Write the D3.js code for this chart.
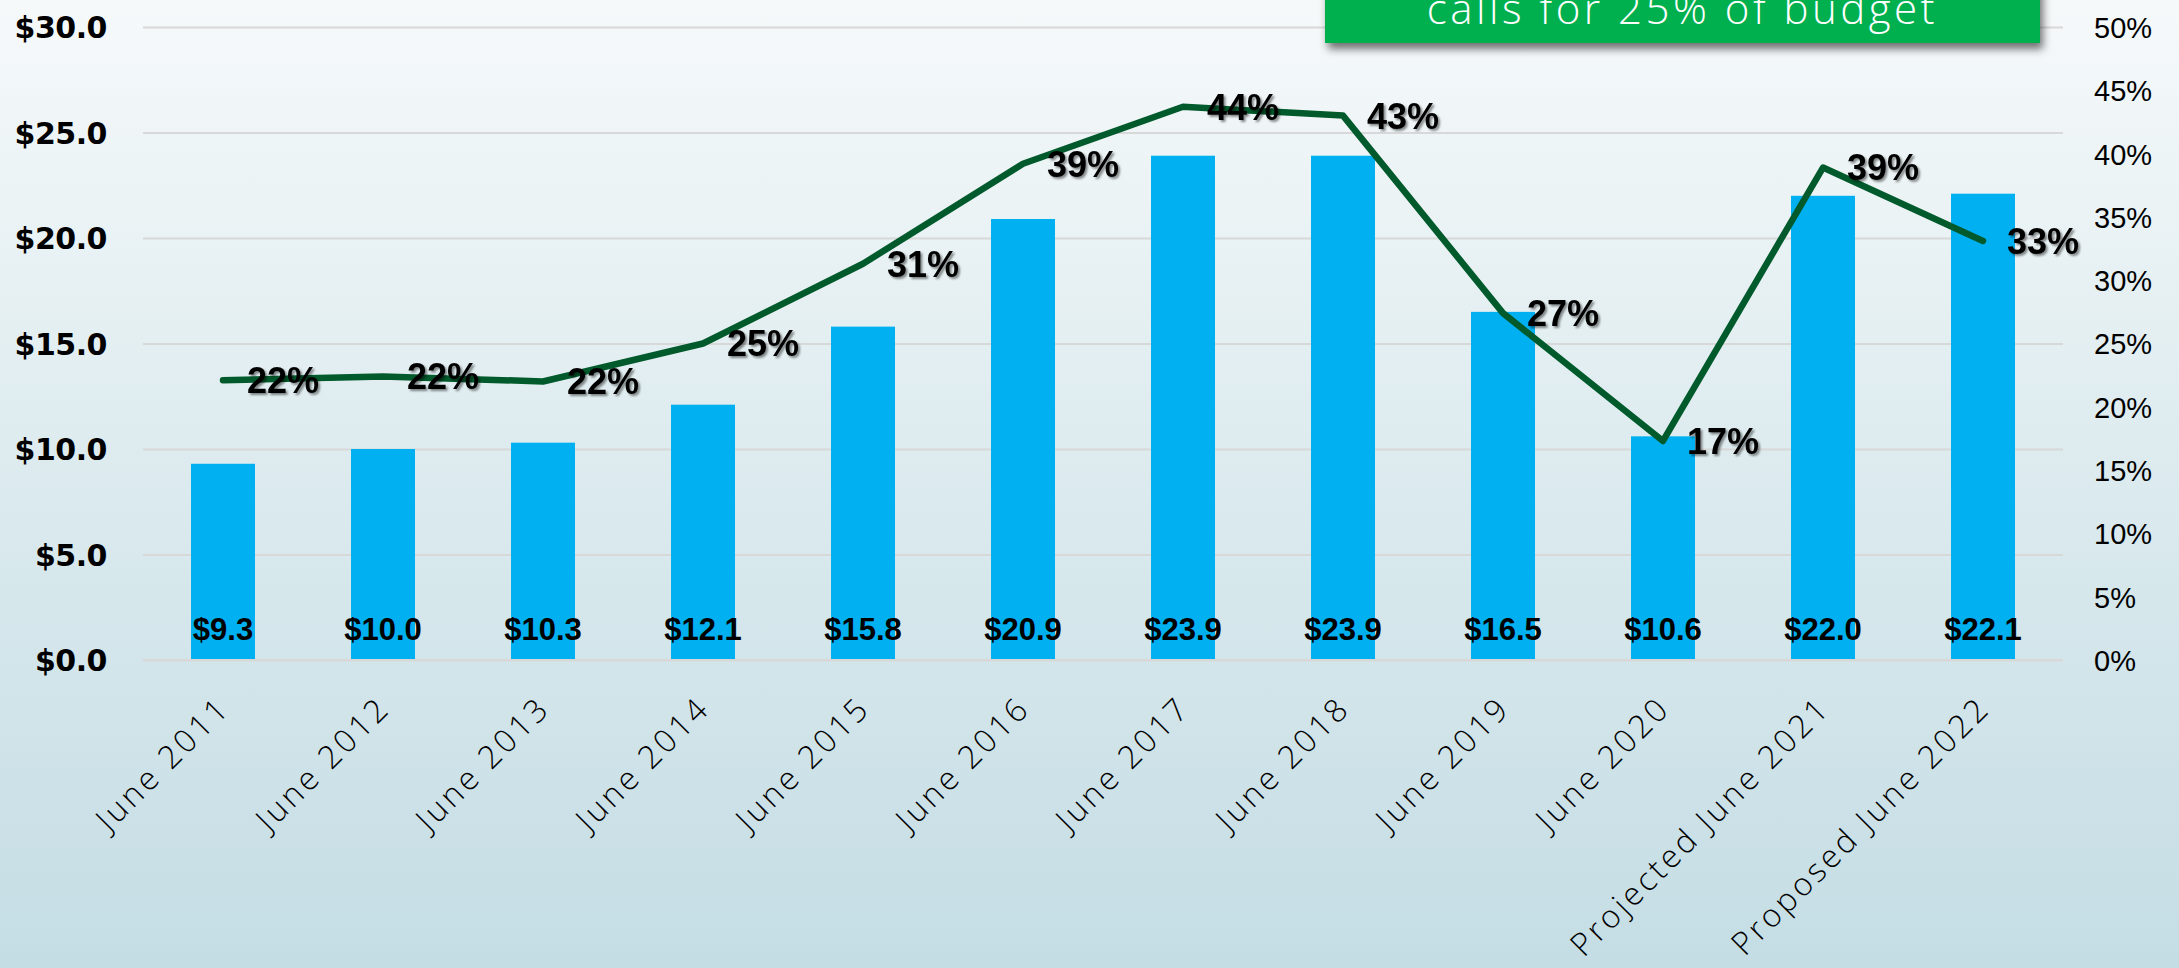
<!DOCTYPE html>
<html>
<head>
<meta charset="utf-8">
<script src="https://cdnjs.cloudflare.com/ajax/libs/d3/7.8.5/d3.min.js"></script>
<style>
  html, body { margin: 0; padding: 0; overflow: hidden; }
  svg { display: block; }
</style>
</head>
<body>
<svg id="chart" width="2179" height="968"></svg>
<script>
// ---- data ----
const categories = ["June 2011", "June 2012", "June 2013", "June 2014", "June 2015", "June 2016",
  "June 2017", "June 2018", "June 2019", "June 2020", "Projected June 2021", "Proposed June 2022"];
const amounts = [9.3, 10.0, 10.3, 12.1, 15.8, 20.9, 23.9, 23.9, 16.5, 10.6, 22.0, 22.1];
const shares = [22.1, 22.4, 22.0, 25.0, 31.3, 39.2, 43.7, 43.0, 27.4, 17.3, 38.9, 33.1];
const leftTicks = [0, 5, 10, 15, 20, 25, 30];
const rightTicks = [0, 5, 10, 15, 20, 25, 30, 35, 40, 45, 50];
const calloutText = "calls for 25% of budget";

// ---- layout ----
const W = 2179, H = 968;
const plotL = 143, plotR = 2063, plotT = 27, plotB = 660;

const svg = d3.select("#chart");
const defs = svg.append("defs");

const bg = defs.append("linearGradient").attr("id", "bg").attr("x1", 0).attr("y1", 0).attr("x2", 0).attr("y2", 1);
bg.append("stop").attr("offset", "0%").attr("stop-color", "#f6f9fa");
bg.append("stop").attr("offset", "55%").attr("stop-color", "#d9e9ed");
bg.append("stop").attr("offset", "100%").attr("stop-color", "#c4dde4");

const ts = defs.append("filter").attr("id", "txtShadow").attr("x", "-20%").attr("y", "-20%").attr("width", "150%").attr("height", "150%");
ts.append("feDropShadow").attr("dx", 2).attr("dy", 2).attr("stdDeviation", 1.2)
  .attr("flood-color", "#000").attr("flood-opacity", 0.45);

const bs = defs.append("filter").attr("id", "boxShadow").attr("x", "-10%").attr("y", "-10%").attr("width", "130%").attr("height", "160%");
bs.append("feDropShadow").attr("dx", 3).attr("dy", 6).attr("stdDeviation", 4)
  .attr("flood-color", "#000").attr("flood-opacity", 0.55);

svg.append("rect").attr("x", 0).attr("y", 0).attr("width", W).attr("height", H).attr("fill", "url(#bg)");

// ---- scales ----
const x = d3.scaleBand().domain(categories).range([plotL, plotR]).paddingInner(0.6).paddingOuter(0.3);
const yL = d3.scaleLinear().domain([0, 30]).range([plotB, plotT]);
const yR = d3.scaleLinear().domain([0, 50]).range([plotB, plotT]);

// ---- gridlines ----
const grid = svg.append("g").attr("transform", `translate(${plotL},0)`)
  .call(d3.axisLeft(yL).tickValues(leftTicks).tickSize(-(plotR - plotL)).tickFormat(""));
grid.select(".domain").remove();
grid.selectAll("line").attr("stroke", "#d8d8d8").attr("stroke-width", 2);

// ---- left axis ----
const axL = svg.append("g").attr("transform", `translate(${plotL},0)`)
  .call(d3.axisLeft(yL).tickValues(leftTicks).tickSize(0).tickPadding(36).tickFormat(d => "$" + d.toFixed(1)));
axL.select(".domain").remove();
axL.selectAll("text").attr("font-family", "'DejaVu Sans', sans-serif").attr("font-weight", "bold")
  .attr("font-size", 30).attr("letter-spacing", "-0.5").attr("fill", "#000").attr("dy", "0.36em");

// ---- right axis ----
const axR = svg.append("g").attr("transform", `translate(${plotR},0)`)
  .call(d3.axisRight(yR).tickValues(rightTicks).tickSize(0).tickPadding(31).tickFormat(d => d + "%"));
axR.select(".domain").remove();
axR.selectAll("text").attr("font-family", "'Liberation Sans', sans-serif")
  .attr("font-size", 29).attr("fill", "#000").attr("dy", "0.36em");

// ---- bars ----
svg.append("g").selectAll("rect").data(amounts).join("rect")
  .attr("x", (d, i) => x(categories[i]))
  .attr("y", d => yL(d))
  .attr("width", x.bandwidth())
  .attr("height", d => yL(0) - yL(d))
  .attr("fill", "#00b0f0");

// baseline gridline over bars
svg.append("line").attr("x1", plotL).attr("x2", plotR).attr("y1", yL(0)).attr("y2", yL(0))
  .attr("stroke", "#d8d8d8").attr("stroke-width", 2);

// bar value labels
svg.append("g").selectAll("text").data(amounts).join("text")
  .attr("x", (d, i) => x(categories[i]) + x.bandwidth() / 2)
  .attr("y", yL(0) - 20)
  .attr("text-anchor", "middle")
  .attr("font-family", "'Liberation Sans', Arial, sans-serif")
  .attr("font-weight", "bold").attr("font-size", 31).attr("fill", "#000")
  .text(d => "$" + d.toFixed(1));

// ---- bottom axis ----
const axB = svg.append("g").attr("transform", `translate(0,${plotB})`)
  .call(d3.axisBottom(x).tickSize(0));
axB.select(".domain").remove();
axB.selectAll("text")
  .attr("x", 0).attr("y", 0).attr("dy", 0)
  .attr("transform", "translate(9,50) rotate(-45)")
  .style("text-anchor", "end")
  .attr("font-family", "'Open Sans', sans-serif").attr("font-weight", 300)
  .attr("font-size", 32).attr("letter-spacing", "3.2").attr("fill", "#000");

// ---- line ----
const cx = i => x(categories[i]) + x.bandwidth() / 2;
const line = d3.line().x((d, i) => cx(i)).y(d => yR(d));
svg.append("path").datum(shares).attr("d", line)
  .attr("fill", "none").attr("stroke", "#005a2b").attr("stroke-width", 6.5)
  .attr("stroke-linejoin", "round").attr("stroke-linecap", "round");

// share labels
svg.append("g").selectAll("text").data(shares).join("text")
  .attr("x", (d, i) => cx(i) + 24)
  .attr("y", d => yR(d))
  .attr("dy", "0.36em")
  .attr("font-family", "'Liberation Sans', Arial, sans-serif")
  .attr("font-weight", "bold").attr("font-size", 36).attr("fill", "#000")
  .attr("filter", "url(#txtShadow)")
  .text(d => Math.round(d) + "%");

// ---- callout box ----
const boxX = 1325, boxW = 715, boxBottom = 43;
svg.append("rect").attr("x", boxX).attr("y", -60).attr("width", boxW).attr("height", boxBottom + 60)
  .attr("fill", "#00b050").attr("filter", "url(#boxShadow)");
svg.append("text").attr("x", boxX + boxW / 2).attr("y", 24)
  .attr("text-anchor", "middle")
  .attr("font-family", "'Open Sans', sans-serif").attr("font-weight", 300)
  .attr("font-size", 42).attr("letter-spacing", "3.5").attr("fill", "#fff")
  .text(calloutText);
</script>
</body>
</html>
